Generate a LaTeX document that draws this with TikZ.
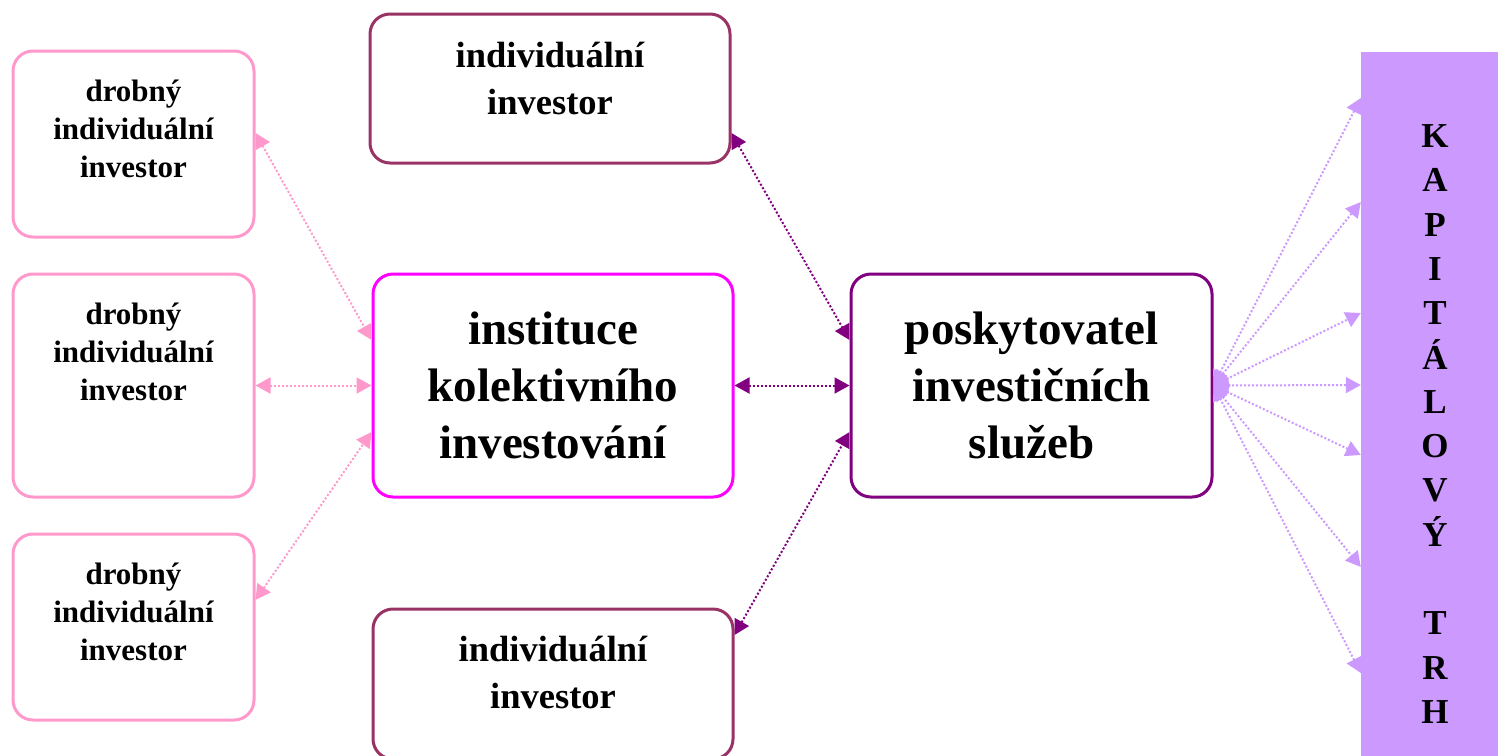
\documentclass[tikz,border=0pt]{standalone}
\usepackage{fontspec}
\setmainfont{Liberation Serif}
\usetikzlibrary{arrows.meta}
\definecolor{ruzova}{HTML}{FF99CC}
\definecolor{svestkova}{HTML}{993366}
\definecolor{purpurova}{HTML}{FF00FF}
\definecolor{fialova}{HTML}{800080}
\definecolor{levandule}{HTML}{CC99FF}

\begin{document}
\begin{tikzpicture}[x=1pt,y=-1pt,
  box/.style={draw,rounded corners=20pt,line width=3pt,fill=white,inner sep=0pt},
  malytext/.style={align=center,font=\fontsize{31}{38}\selectfont\bfseries},
  strednitext/.style={align=center,font=\fontsize{36.5}{47}\selectfont\bfseries},
  velkytext/.style={align=center,font=\fontsize{47}{57}\selectfont\bfseries},
  sipka/.style={line width=2pt,dash pattern=on 2pt off 2pt,
    {Triangle[length=15pt,width=16pt]}-{Triangle[length=15pt,width=16pt]}}]
\useasboundingbox (0,0) rectangle (1498,755);

% drobni investori
\node[box,draw=ruzova,minimum width=241pt,minimum height=186pt] (d1) at (133.5,144) {};
\node[box,draw=ruzova,minimum width=241pt,minimum height=223pt] (d2) at (133.5,385.5) {};
\node[box,draw=ruzova,minimum width=241pt,minimum height=186pt] (d3) at (133.5,627) {};
\node[malytext] (t1) at (133.5,129) {drobný\\individuální\\investor};
\node[malytext] (t2) at (133.5,352) {drobný\\individuální\\investor};
\node[malytext] (t3) at (133.5,612) {drobný\\individuální\\investor};

% individualni investori
\node[box,draw=svestkova,minimum width=360pt,minimum height=149pt] (i1) at (550,88.5) {};
\node[strednitext] (ti1) at (550,78) {individuální\\investor};
\node[box,draw=svestkova,minimum width=360pt,minimum height=150pt] (i2) at (553,684) {};
\node[strednitext] (ti2) at (553,672) {individuální\\investor};

% stred
\node[box,draw=purpurova,minimum width=360pt,minimum height=223pt,velkytext] (ik) at (553,385.5)
  {instituce\\kolektivního\\investování};
\node[box,draw=fialova,minimum width=361pt,minimum height=223pt,velkytext] (pis) at (1031.5,385.5)
  {poskytovatel\\investičních\\služeb};

% kapitalovy trh
\node[fill=levandule,minimum width=137pt,minimum height=710pt,inner sep=0pt] (kt) at (1429.5,407) {};
\node[align=center,font=\fontsize{35}{44.3}\selectfont\bfseries] (ktt) at (1435,424)
  {K\\A\\P\\I\\T\\Á\\L\\O\\V\\Ý\\[44.3pt]T\\R\\H};

% sipky
\draw[sipka,ruzova] ([yshift=11pt]d1.east) -- ([yshift=45.5pt]ik.west);
\draw[sipka,ruzova] (d2.east) -- (ik.west);
\draw[sipka,ruzova] ([yshift=27pt]d3.east) -- ([yshift=-46.5pt]ik.west);
\draw[sipka,fialova] ([yshift=-44.5pt]i1.east) -- ([yshift=45.5pt]pis.west);
\draw[sipka,fialova] (ik.east) -- (pis.west);
\draw[sipka,fialova] ([yshift=49pt]i2.east) -- ([yshift=-46.5pt]pis.west);
\foreach \s in {309,205,94,22,-48,-160,-266}
  \draw[sipka,levandule] (pis.east) -- ([yshift=\s pt]kt.west);
\end{tikzpicture}
\end{document}
